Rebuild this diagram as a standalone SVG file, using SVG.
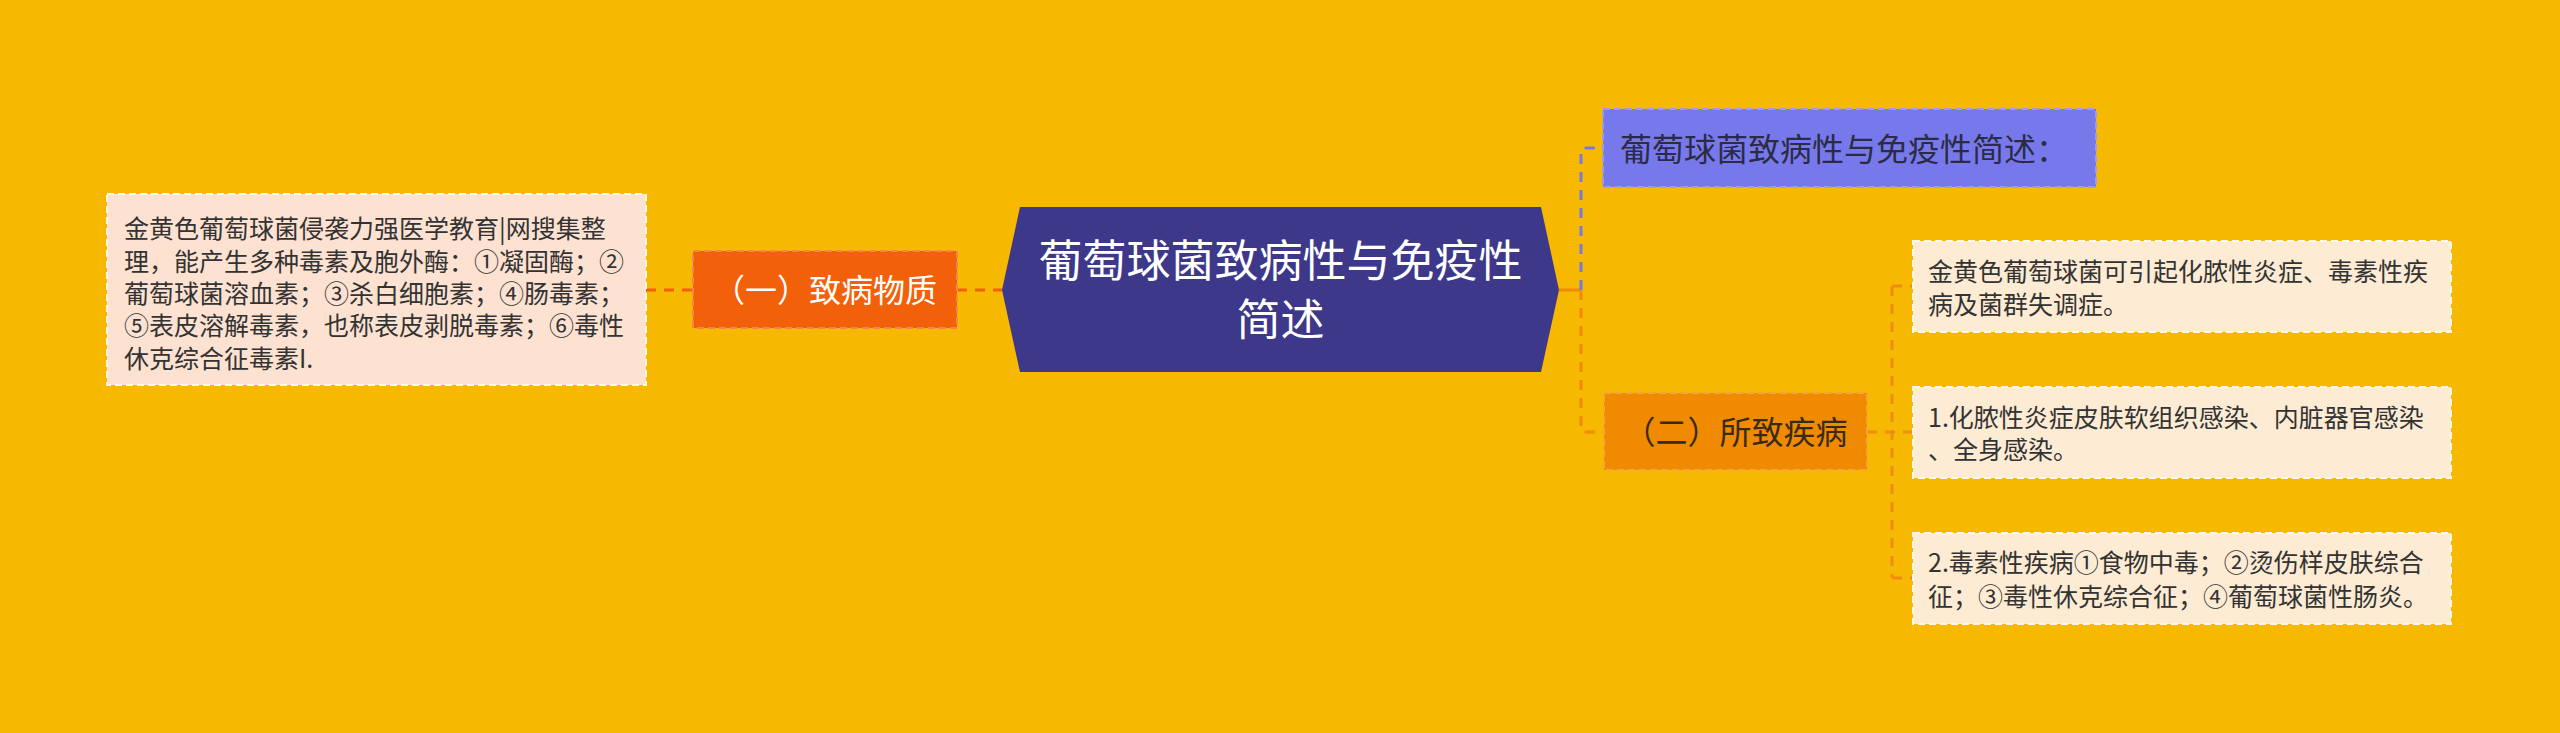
<svg xmlns="http://www.w3.org/2000/svg" width="2560" height="733" viewBox="0 0 2560 733">
<style>
text{font-family:"Noto Sans CJK SC","Noto Sans",sans-serif;}
.leaf{stroke:#FFF7EC;stroke-width:2;stroke-dasharray:7 4;}
.leafL{fill:#FDE2D2;}
.leafR{fill:#FDEBD3;}
.lt{font-size:25px;fill:#333333;}
.c{fill:none;stroke-width:3;stroke-dasharray:10 8;}
</style>
<rect width="2560" height="733" fill="#F7B900"/>
<g id="connectors">
<path class="c" d="M646,290 H693" stroke="#F2600A"/>
<path class="c" d="M957,290 H1002" stroke="#F2600A"/>
<path d="M1559,290 H1581" stroke="#F08A00" stroke-width="3" fill="none"/>
<path class="c" d="M1581,290 V152 Q1581,148 1585,148 H1603" stroke="#7678E8"/>
<path class="c" d="M1581,290 V428 Q1581,432 1585,432 H1604" stroke="#F08A00"/>
<path class="c" d="M1867,432 H1913 M1892,286 V578 M1892,286 H1913 M1892,578 H1913" stroke="#EE8C14" stroke-width="2"/>
</g>
<g id="root">
<polygon points="1002,290 1020,207 1541,207 1559,290 1541,372 1020,372" fill="#3D388A"/>
<text x="1280.5" y="277" font-size="44" fill="#FFFFFF" text-anchor="middle">葡萄球菌致病性与免疫性</text>
<text x="1280.5" y="336" font-size="44" fill="#FFFFFF" text-anchor="middle">简述</text>
</g>
<g id="n1">
<rect x="693" y="251" width="264" height="77" fill="#F2600A" stroke="#F7844A" stroke-width="2" stroke-dasharray="7 4"/>
<text x="825" y="302" font-size="32" fill="#FFFFFF" text-anchor="middle">（一）致病物质</text>
</g>
<g id="n1a">
<rect class="leaf leafL" x="107" y="194" width="539" height="191"/>
<text class="lt" x="124" y="238">金黄色葡萄球菌侵袭力强医学教育|网搜集整</text>
<text class="lt" x="124" y="271">理，能产生多种毒素及胞外酶：①凝固酶；②</text>
<text class="lt" x="124" y="303">葡萄球菌溶血素；③杀白细胞素；④肠毒素；</text>
<text class="lt" x="124" y="335">⑤表皮溶解毒素，也称表皮剥脱毒素；⑥毒性</text>
<text class="lt" x="124" y="368">休克综合征毒素I.</text>
</g>
<g id="n2">
<rect x="1603" y="109" width="493" height="78" fill="#7779EA" stroke="#9A9CF0" stroke-width="2" stroke-dasharray="7 4"/>
<text x="1620" y="161" font-size="32" fill="#2B2B45">葡萄球菌致病性与免疫性简述：</text>
</g>
<g id="n3">
<rect x="1604" y="393" width="263" height="77" fill="#F08A00" stroke="#F5A53A" stroke-width="2" stroke-dasharray="7 4"/>
<text x="1735.5" y="444" font-size="32" fill="#3A2A12" text-anchor="middle">（二）所致疾病</text>
</g>
<g id="n3a">
<rect class="leaf leafR" x="1913" y="241" width="538" height="91"/>
<text class="lt" x="1928" y="280.5">金黄色葡萄球菌可引起化脓性炎症、毒素性疾</text>
<text class="lt" x="1928" y="313.5">病及菌群失调症。</text>
</g>
<g id="n3b">
<rect class="leaf leafR" x="1913" y="387" width="538" height="91"/>
<text class="lt" x="1928" y="426.5">1.化脓性炎症皮肤软组织感染、内脏器官感染</text>
<text class="lt" x="1928" y="459">、全身感染。</text>
</g>
<g id="n3c">
<rect class="leaf leafR" x="1913" y="533" width="538" height="91"/>
<text class="lt" x="1928" y="571.5">2.毒素性疾病①食物中毒；②烫伤样皮肤综合</text>
<text class="lt" x="1928" y="605.5">征；③毒性休克综合征；④葡萄球菌性肠炎。</text>
</g>
</svg>
